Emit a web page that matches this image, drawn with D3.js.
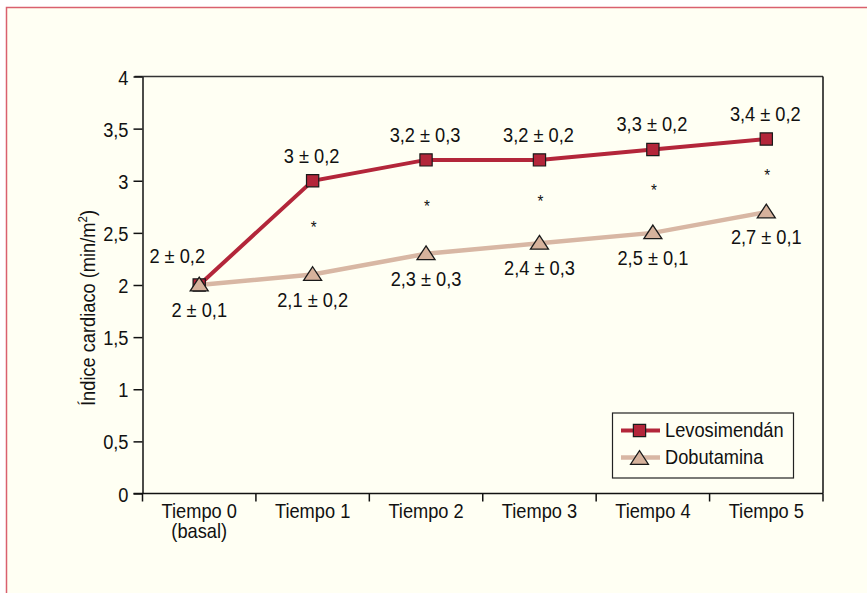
<!DOCTYPE html>
<html><head><meta charset="utf-8">
<script src="https://cdn.jsdelivr.net/npm/d3@7"></script>
<style>html,body{margin:0;padding:0;background:#fff;}svg{display:block;}</style>
</head><body>
<script>
const categories = ["Tiempo 0|(basal)", "Tiempo 1", "Tiempo 2", "Tiempo 3", "Tiempo 4", "Tiempo 5"];
const levoValues = [2, 3, 3.2, 3.2, 3.3, 3.4];
const dobuValues = [2, 2.1, 2.3, 2.4, 2.5, 2.7];
const levoLabels = ["2 ± 0,2", "3 ± 0,2", "3,2 ± 0,3", "3,2 ± 0,2", "3,3 ± 0,2", "3,4 ± 0,2"];
const dobuLabels = ["2 ± 0,1", "2,1 ± 0,2", "2,3 ± 0,3", "2,4 ± 0,3", "2,5 ± 0,1", "2,7 ± 0,1"];
const signif = [false, true, true, true, true, true];
const yTicks = [0, 0.5, 1, 1.5, 2, 2.5, 3, 3.5, 4];
const seriesNames = ["Levosimendán", "Dobutamina"];

const W = 867, H = 593;
const FONT = "'Liberation Sans', Arial, sans-serif";
const FS = 20.5, SX = 0.89;
const levoColor = "#b3263a", dobuColor = "#d8b7a4", triFill = "#d6b29c";

const svg = d3.select("body").append("svg").attr("width", W).attr("height", H)
  .style("font-family", FONT);

function addText(parent, x, y, str, opts = {}) {
  const t = parent.append("text")
    .attr("transform", `translate(${x},${y})${opts.rotate ? ` rotate(${opts.rotate})` : ""} scale(${SX},1)`)
    .attr("text-anchor", opts.anchor || "middle")
    .attr("font-size", opts.size || FS).attr("fill", "#111");
  if (str !== null) t.text(str);
  return t;
}

svg.append("rect").attr("x", 6.5).attr("y", 7.5).attr("width", 900).attr("height", 700)
  .attr("fill", "#fffff3").attr("stroke", "#d9606e").attr("stroke-width", 1.5);

const m = {left: 142.5, right: 823, top: 76.5, bottom: 493.5};
const x = d3.scaleBand().domain(categories).range([m.left, m.right]);
const y = d3.scaleLinear().domain([0, 4]).range([m.bottom, m.top]);

// frame top and right
svg.append("line").attr("x1", m.left - 8).attr("x2", m.right).attr("y1", m.top).attr("y2", m.top)
  .attr("stroke", "#333").attr("stroke-width", 1.5);
svg.append("line").attr("x1", m.right).attr("x2", m.right).attr("y1", m.top).attr("y2", m.bottom)
  .attr("stroke", "#111").attr("stroke-width", 1.5);

// y axis
const yAxis = svg.append("g").attr("transform", `translate(${m.left},0)`)
  .call(d3.axisLeft(y).tickValues(yTicks).tickSize(9).tickSizeOuter(0)
    .tickFormat(d => String(d).replace(".", ",")));
yAxis.selectAll("path,line").attr("stroke", "#111").attr("stroke-width", 1.5);
yAxis.selectAll("text").remove();
yAxis.selectAll("g.tick").each(function(d) {
  addText(d3.select(this), -14, 7.5, String(d).replace(".", ","), {anchor: "end"});
});

// x axis
const xAxis = svg.append("g").attr("transform", `translate(0,${m.bottom})`);
xAxis.append("line").attr("x1", m.left - 9).attr("x2", m.right).attr("stroke", "#111").attr("stroke-width", 1.5);
const bounds = categories.map(c => x(c)).concat([m.right]);
xAxis.selectAll("line.tk").data(bounds).join("line").attr("class", "tk")
  .attr("x1", d => d).attr("x2", d => d).attr("y1", 0).attr("y2", 8)
  .attr("stroke", "#111").attr("stroke-width", 1.5);
categories.forEach(c => {
  const t = addText(xAxis, x(c) + x.bandwidth() / 2, 24, null);
  c.split("|").forEach((p, i) => t.append("tspan").attr("x", 0).attr("dy", i ? 20.5 : 0).text(p));
});

// y title
const yt = addText(svg, 95, 308, null, {rotate: -90});
yt.append("tspan").text("Índice cardiaco (min/m");
yt.append("tspan").attr("font-size", 13).attr("dy", -8).text("2");
yt.append("tspan").attr("dy", 8).text(")");

const cx = (i) => x(categories[i]) + x.bandwidth() / 2;
const line = d3.line().x((d, i) => cx(i)).y(d => y(d));

svg.append("path").datum(dobuValues).attr("d", line).attr("fill", "none")
  .attr("stroke", dobuColor).attr("stroke-width", 4.5);
svg.append("path").datum(levoValues).attr("d", line).attr("fill", "none")
  .attr("stroke", levoColor).attr("stroke-width", 4);

const flatTri = {draw(ctx, size) {
  const w = Math.sqrt(size) * 1.5, h = w * 0.76;
  ctx.moveTo(0, -h / 2); ctx.lineTo(w / 2, h / 2); ctx.lineTo(-w / 2, h / 2); ctx.closePath();
}};
const triSym = d3.symbol().type(flatTri).size(144);
const sqSym = d3.symbol().type(d3.symbolSquare).size(150);

svg.selectAll("path.sq").data(levoValues).join("path").attr("class", "sq")
  .attr("d", sqSym).attr("transform", (d, i) => `translate(${cx(i)},${y(d)})`)
  .attr("fill", levoColor).attr("stroke", "#1a1a1a").attr("stroke-width", 1.2);
svg.selectAll("path.tri").data(dobuValues).join("path").attr("class", "tri")
  .attr("d", triSym).attr("transform", (d, i) => `translate(${cx(i)},${y(d) - 1})`)
  .attr("fill", triFill).attr("stroke", "#1a1a1a").attr("stroke-width", 1.3);

// value labels
levoValues.forEach((d, i) => {
  addText(svg, cx(i) + (i === 0 ? -22 : -1), y(d) - (i === 0 ? 22 : 18), levoLabels[i]);
});
dobuValues.forEach((d, i) => {
  addText(svg, cx(i) + 0, y(d) + 32, dobuLabels[i]);
});

// significance asterisks
levoValues.forEach((d, i) => {
  if (!signif[i]) return;
  addText(svg, cx(i) + 1, y((d + dobuValues[i]) / 2) - 5 + 10, "*", {size: 17});
});

// legend
const lg = svg.append("g").attr("transform", "translate(612,412.5)");
lg.append("rect").attr("x", 0.5).attr("y", 0.5).attr("width", 181).attr("height", 65)
  .attr("fill", "#fffff3").attr("stroke", "#222").attr("stroke-width", 1.2);
seriesNames.forEach((name, i) => {
  const yy = 18 + i * 27;
  lg.append("line").attr("x1", 9).attr("x2", 48).attr("y1", yy).attr("y2", yy)
    .attr("stroke", i ? dobuColor : levoColor).attr("stroke-width", i ? 4.5 : 4);
  lg.append("path").attr("d", i ? triSym() : sqSym())
    .attr("transform", `translate(27.5,${yy})`)
    .attr("fill", i ? triFill : levoColor).attr("stroke", "#1a1a1a").attr("stroke-width", 1.2);
  addText(lg, 53, yy + 6, name, {anchor: "start"});
});
</script>
</body></html>
